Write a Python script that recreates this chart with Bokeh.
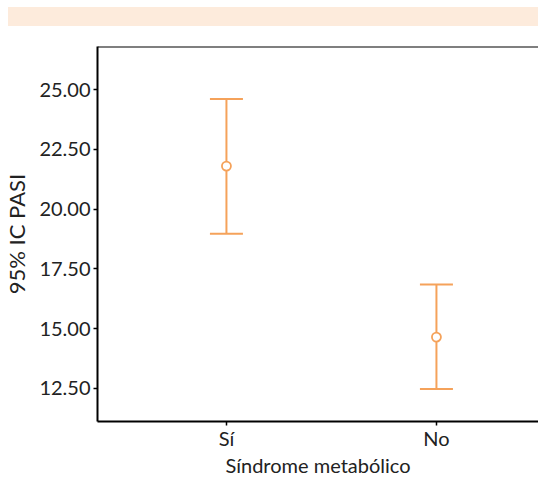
from bokeh.plotting import figure
from bokeh.models import (ColumnDataSource, Whisker, TeeHead, Range1d, FixedTicker,
                          NumeralTickFormatter, Span, Div)
from bokeh.layouts import column
from bokeh.embed import file_html
from bokeh.resources import INLINE

categories = ["Sí", "No"]
means = [21.8, 14.65]
lower = [18.97, 12.48]
upper = [24.6, 16.85]
y_ticks = [12.5, 15.0, 17.5, 20.0, 22.5, 25.0]
x_title = "Síndrome metabólico"
y_title = "95% IC PASI"

ORANGE = "#F5A25A"
FONT = "Lato"

xpos = list(range(1, len(categories) + 1))
src = ColumnDataSource(dict(x=xpos, mean=means, lower=lower, upper=upper))

band = Div(text="", width=530, height=19, margin=(7, 0, 0, 8),
           styles={"background-color": "#FDEBDC"})

p = figure(width=538, height=454, output_backend="svg", toolbar_location=None,
           x_range=Range1d(0.386, 2.486), y_range=Range1d(11.12, 26.8),
           min_border_left=97, min_border_right=0, min_border_top=20, min_border_bottom=59)
p.outline_line_color = None
p.xgrid.visible = False
p.ygrid.visible = False
p.background_fill_color = "white"

p.add_layout(Span(location=26.8, dimension="width", line_color="black", line_width=2))

w = Whisker(base="x", upper="upper", lower="lower", source=src,
            line_color=ORANGE, line_width=2,
            upper_head=TeeHead(size=33, line_color=ORANGE, line_width=2),
            lower_head=TeeHead(size=33, line_color=ORANGE, line_width=2))
p.add_layout(w)
p.scatter("x", "mean", source=src, marker="circle", size=9, fill_color="white",
          line_color=ORANGE, line_width=1.8)

for ax in (p.xaxis[0], p.yaxis[0]):
    ax.axis_line_color = "black"
    ax.axis_line_width = 2
    ax.major_tick_line_color = "black"
    ax.major_tick_line_width = 1.5
    ax.major_tick_out = 4
    ax.major_tick_in = 0
    ax.minor_tick_line_color = None
    ax.major_label_text_font = FONT
    ax.major_label_text_font_size = "20px"
    ax.major_label_text_color = "#222222"
    ax.axis_label_text_font = FONT
    ax.axis_label_text_font_size = "20px"
    ax.axis_label_text_font_style = "normal"
    ax.axis_label_text_color = "#222222"

p.xaxis.ticker = FixedTicker(ticks=xpos)
p.xaxis.major_label_overrides = {i: c for i, c in zip(xpos, categories)}
p.xaxis.axis_label = x_title
p.xaxis.major_label_standoff = 0
p.xaxis.axis_label_standoff = 0

p.yaxis.ticker = FixedTicker(ticks=y_ticks)
p.yaxis.formatter = NumeralTickFormatter(format="0.00")
p.yaxis.axis_label = y_title
p.yaxis.axis_label_text_font_size = "22px"
p.yaxis.major_label_standoff = 3
p.yaxis.axis_label_standoff = 6

layout = column(band, p, spacing=0)
open("out.html", "w").write(file_html(layout, INLINE))
